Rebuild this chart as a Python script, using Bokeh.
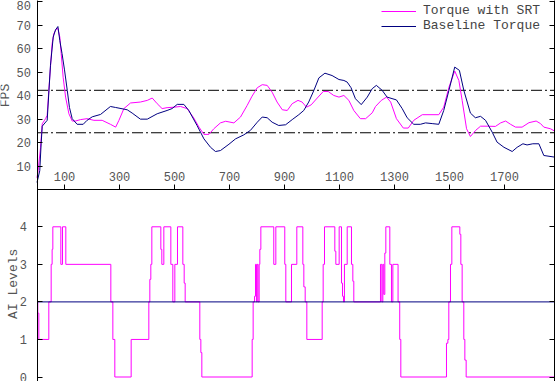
from bokeh.plotting import figure
from bokeh.models import Range1d, LinearAxis, FixedTicker, Label
from bokeh.embed import file_html
from bokeh.resources import INLINE

# ---------------- data ----------------
srt_t = [0, 4, 13, 19, 31, 37, 43, 49, 55, 61, 71, 76, 83, 88, 95, 104, 116, 128, 140, 158,
         182, 207, 237, 267, 286, 298, 316, 340, 376, 401, 419, 437, 455, 473, 498, 522, 546, 570, 589, 607,
         625, 643, 667, 686, 716, 740, 764, 782, 801, 819, 837, 855, 873, 892, 910, 928, 949, 964, 980, 997,
         1019, 1041, 1059, 1079, 1098, 1116, 1134, 1152, 1176, 1195, 1219, 1231, 1252, 1271, 1286, 1307, 1332, 1350, 1370, 1401,
         1461, 1479, 1498, 1519, 1534, 1546, 1562, 1576, 1595, 1613, 1637, 1667, 1686, 1704, 1722, 1740, 1764, 1789, 1815, 1831,
         1843, 1867, 1883]
srt_fps = [5, 8, 18, 28, 30.2, 31.6, 42.3, 52.2, 62.2, 66.4, 68.6, 68.6, 65, 57.9, 47.9, 39.4, 32.3, 29.2, 29.2, 29.8,
           30.2, 29.5, 29.5, 27.8, 26.6, 29.5, 34.5, 36.9, 37.3, 38, 39, 36.6, 34.5, 34.9, 35.1, 35.4, 34.5, 30.5, 26.6, 23.5,
           23.5, 25.9, 28.4, 29.1, 28.4, 30.9, 35.8, 39.8, 43.4, 44.7, 44.4, 41.5, 37.3, 34, 33.7, 36.6, 38, 37.3, 35.1, 36.1,
           39, 41.8, 41.8, 40.1, 39.4, 40.1, 38, 33.7, 30.2, 30.2, 32.7, 35.4, 38, 39.4, 37.3, 30.2, 26.2, 26.2, 29.5, 31.9,
           31.9, 35.1, 43.6, 50.5, 46.5, 38, 25.9, 22.6, 25.2, 27, 27, 26.9, 28.4, 29.2, 27.8, 26.6, 26.6, 28.5, 29.2, 28.1,
           26.6, 25.9, 24.9]

base_t = [0, 10, 15, 19, 37, 49, 59, 67, 76, 83, 91, 100, 110, 118, 128, 146, 168, 182, 201, 231,
          267, 285, 328, 346, 376, 401, 437, 473, 491, 510, 534, 552, 582, 607, 631, 649, 667, 698, 722, 752,
          776, 801, 819, 837, 855, 879, 904, 928, 952, 970, 988, 1007, 1025, 1047, 1073, 1098, 1116, 1128, 1142, 1158,
          1179, 1201, 1219, 1234, 1255, 1273, 1307, 1328, 1346, 1370, 1394, 1413, 1437, 1461, 1479, 1498, 1519, 1536, 1552, 1576,
          1594, 1613, 1631, 1655, 1673, 1698, 1728, 1746, 1767, 1782, 1803, 1825, 1843, 1883]
base_fps = [3, 8, 19.5, 27, 29.5, 53, 65, 68, 69.5, 63.5, 58, 51, 42.3, 35, 30.2, 27.8, 27.8, 29.5, 31, 32,
            35.4, 35, 34, 32.6, 30, 30, 32.3, 33.7, 34.5, 36.3, 36.3, 33.7, 27.3, 21.6, 18, 16.2, 16.6, 19.3, 21.6, 23.3,
            25.2, 28.7, 30.9, 30.6, 28.7, 27.3, 27.6, 29.8, 31.9, 33.7, 37.3, 42.3, 47.6, 49.6, 48.6, 46.9, 46.5, 45.8, 43.4, 38.7,
            36.2, 39.4, 43, 44.4, 42.3, 39.4, 38.2, 34.5, 30.6, 27.8, 27.8, 28.4, 28.1, 27.8, 33.7, 42.3, 52.2, 50.8, 42.3, 32.6,
            30.6, 31.2, 29.5, 24.5, 20.2, 18, 16.2, 18, 19.5, 19, 19.5, 19.5, 14.5, 13.8]

ai_t = [0, 3, 6.7, 43, 51.5, 55, 57.6, 86.7, 92.7, 104.8, 268.5, 275.8, 283, 342.4, 406.7, 410.3, 413.9, 417.6,
        450.3, 453.9, 461.2, 486.7, 493.9, 501.2, 510.9, 530.3, 535.2, 538.8, 592.1, 595.8, 599.4, 782.4, 786, 791,
        794.5, 798, 800.6, 804, 807.9, 810.3, 814, 861, 868.5, 901, 904.8, 925.5, 944.8, 966.7, 970.3, 975.2, 981.2,
        1037, 1040.6, 1045.5, 1083, 1086.7, 1098.8, 1107.3, 1111, 1114.5, 1118, 1128, 1143.6, 1148.5, 1152, 1249,
        1254, 1257.6, 1261, 1264.8, 1268.5, 1283, 1289, 1294, 1313, 1319, 1323, 1489, 1494, 1497.5, 1503.6, 1508.5,
        1537.6, 1541.2, 1546, 1552, 1555.8, 1560.6, 1883]
ai_srt = [2, 1.7, 1, 2, 3, 3.4, 4, 3, 4, 3, 2, 1, 0, 1, 2, 2.6, 3, 4,
          3.4, 3, 4, 3, 2, 3, 4, 3, 2.5, 2, 1, 0.65, 0, 1, 2, 2.15,
          3, 2, 3, 2, 3, 3.4, 4, 3, 4, 3, 2, 3, 4, 3, 2.4, 2, 1,
          2, 3, 4, 3.35, 3, 4, 2.5, 2.15, 2, 3, 4, 3, 2.55, 2, 3,
          2, 3, 2.2, 3.3, 4, 3, 2, 3, 2, 1, 0, 0.9, 1, 2, 3, 4,
          3.8, 3, 2, 1, 0.45, 0, 0]
ai_base_t = [0, 1883]
ai_base = [2, 2]

ref_fps = [42.3, 24.2]
x_ticks = [100, 300, 500, 700, 900, 1100, 1300, 1500, 1700]
fps_ticks = [10, 20, 30, 40, 50, 60, 70, 80]
lvl_ticks = [0, 1, 2, 3, 4]

# ---------------- layout constants (pixels) ----------------
W, H = 555, 381
X0, PX_T = 36.5, 0.275          # pixel of t=0, pixels per time unit
Y0_FPS, PX_FPS = 189.0, 2.345    # pixel of FPS 0, pixels per FPS
Y0_LVL, PX_LVL = 376.5, 37.55    # pixel of level 0, pixels per level

t_lo, t_hi = min(base_t), max(base_t)

FONT = "Liberation Mono"
GREY = "#555555"

p = figure(width=W, height=H, output_backend="svg", toolbar_location=None,
           x_range=Range1d(-X0 / PX_T, (W - X0) / PX_T),
           y_range=Range1d((Y0_FPS - H) / PX_FPS, Y0_FPS / PX_FPS),
           x_axis_type=None, y_axis_type=None,
           min_border=0, min_border_left=0, min_border_right=0, min_border_top=0, min_border_bottom=0,
           outline_line_color=None, background_fill_color="white", border_fill_color="white")
p.extra_y_ranges = {"lvl": Range1d((Y0_LVL - H) / PX_LVL, Y0_LVL / PX_LVL)}


def style(ax, labels=True, size="12px"):
    ax.axis_line_color = "black"
    ax.axis_line_width = 1
    ax.major_tick_line_color = "black"
    ax.minor_tick_line_color = None
    ax.major_label_text_font = FONT
    ax.major_label_text_font_size = size
    ax.major_label_text_color = GREY if labels else None
    ax.major_tick_in = 5
    ax.major_tick_out = 0


# left axes (frame border on the left)
ax_fps_l = LinearAxis(ticker=FixedTicker(ticks=fps_ticks), fixed_location=t_lo)
style(ax_fps_l)
ax_fps_l.major_label_standoff = 6
p.add_layout(ax_fps_l, "left")

ax_lvl_l = LinearAxis(ticker=FixedTicker(ticks=lvl_ticks), y_range_name="lvl", fixed_location=t_lo)
style(ax_lvl_l)
ax_lvl_l.major_label_standoff = 10
p.add_layout(ax_lvl_l, "left")

# right mirror axes
ax_fps_r = LinearAxis(ticker=FixedTicker(ticks=fps_ticks), fixed_location=t_hi)
style(ax_fps_r, labels=False)
p.add_layout(ax_fps_r, "right")

ax_lvl_r = LinearAxis(ticker=FixedTicker(ticks=lvl_ticks), y_range_name="lvl", fixed_location=t_hi)
style(ax_lvl_r, labels=False)
p.add_layout(ax_lvl_r, "right")

# shared time axis between the two panels
ax_x = LinearAxis(ticker=FixedTicker(ticks=x_ticks), fixed_location=0, bounds=(t_lo, t_hi))
style(ax_x)
ax_x.major_tick_in = 0
ax_x.major_tick_out = 5
ax_x.major_label_standoff = 4
p.add_layout(ax_x, "above")

# reference dash-dot lines
p.segment(x0=[t_lo] * len(ref_fps), x1=[t_hi] * len(ref_fps), y0=ref_fps, y1=ref_fps,
          line_color="black", line_width=1, line_dash="11 3 2 3")

# top panel
p.line(srt_t, srt_fps, line_color="#ff00ff", line_width=1, legend_label="Torque with SRT")
p.line(base_t, base_fps, line_color="#000080", line_width=1, legend_label="Baseline Torque")

# bottom panel
p.step(ai_t, ai_srt, mode="after", line_color="#ff00ff", line_width=1, y_range_name="lvl")
p.line(ai_base_t, ai_base, line_color="#000080", line_width=1, y_range_name="lvl")

# axis titles
p.add_layout(Label(x=(4.5 - X0) / PX_T, y=(Y0_FPS - 95) / PX_FPS, text="FPS",
                   angle=90, angle_units="deg", text_align="center", text_baseline="middle",
                   text_font=FONT, text_font_size="13px", text_color=GREY))
p.add_layout(Label(x=(12.7 - X0) / PX_T, y=(Y0_LVL - 283.3) / PX_LVL, y_range_name="lvl",
                   text="AI Levels",
                   angle=90, angle_units="deg", text_align="center", text_baseline="middle",
                   text_font=FONT, text_font_size="13px", text_color=GREY))

lg = p.legend[0]
lg.location = (381, 348)
lg.margin = 0
lg.padding = 0
lg.spacing = 0
lg.glyph_width = 35
lg.glyph_height = 12
lg.label_height = 12
lg.label_text_font = FONT
lg.label_text_font_size = "13px"
lg.label_text_color = "#444444"
lg.background_fill_alpha = 0
lg.border_line_color = None
lg.label_standoff = 7

open("out.html", "w").write(file_html(p, INLINE))
